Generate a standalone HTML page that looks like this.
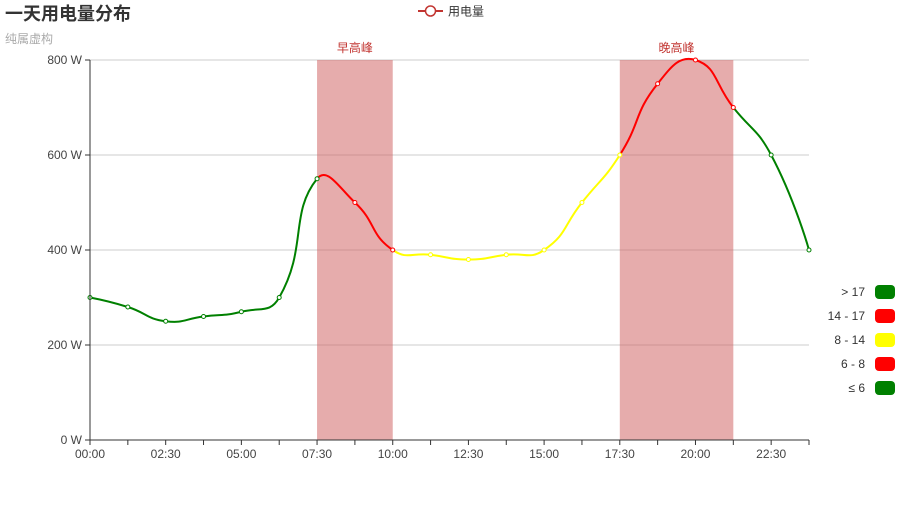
<!DOCTYPE html>
<html><head><meta charset="utf-8">
<style>
body{margin:0;background:#fff;font-family:"Liberation Sans","Noto Sans CJK SC",sans-serif;}
svg text{font-family:"Liberation Sans","Noto Sans CJK SC",sans-serif;}
</style></head>
<body>
<svg id="chart" width="900" height="500">
<text x="5" y="20" font-size="18" font-weight="bold" fill="#333">一天用电量分布</text>
<text x="5" y="43" font-size="12" fill="#aaa">纯属虚构</text>
<g>
<line x1="418" y1="11" x2="443" y2="11" stroke="#c23531" stroke-width="2"/>
<circle cx="430.5" cy="11" r="5" fill="#fff" stroke="#c23531" stroke-width="1.5"/>
<text x="448" y="15.5" font-size="12" fill="#333">用电量</text>
</g>
<g id="grid"></g>
<g id="marks"></g>
<g id="series"></g>
<g id="axes"></g>
<g id="vmap"></g>
</svg>
<script>
const categories=["00:00","01:15","02:30","03:45","05:00","06:15","07:30","08:45","10:00","11:15","12:30","13:45","15:00","16:15","17:30","18:45","20:00","21:15","22:30","23:45"];
const values=[300,280,250,260,270,300,550,500,400,390,380,390,400,500,600,750,800,700,600,400];
const yTicks=[0,200,400,600,800];
const pieceLabels=["> 17","14 - 17","8 - 14","6 - 8","≤ 6"];
const pieceColors=["green","red","yellow","red","green"];
const pieceBounds=[6,8,14,17];
const markAreas=[["早高峰","07:30","10:00"],["晚高峰","17:30","21:15"]];

const NS="http://www.w3.org/2000/svg";
const L=90,R=809,T=60,B=440,yMax=800;
const xs=i=>L+(R-L)*i/(categories.length-1);
const ys=v=>B-(B-T)*v/yMax;
function el(tag,attrs,parent,text){const e=document.createElementNS(NS,tag);for(const k in attrs)e.setAttribute(k,attrs[k]);if(text!==undefined)e.textContent=text;parent.appendChild(e);return e;}
const grid=document.getElementById('grid'),axes=document.getElementById('axes'),marks=document.getElementById('marks'),series=document.getElementById('series'),vmap=document.getElementById('vmap');
yTicks.forEach(t=>{
 const y=ys(t);
 if(t>0){const g=el('line',{x1:L,x2:R,y1:y,y2:y,stroke:'#ccc','stroke-width':1},grid);
 
 }
 el('line',{x1:L-5,x2:L,y1:y,y2:y,stroke:'#333'},axes);
 const tx=el('text',{x:L-8,y:y+4,'font-size':12,fill:'#444','text-anchor':'end'},axes,t+' W');
 
 
});
el('line',{x1:L,x2:L,y1:T,y2:B,stroke:'#333'},axes);
el('line',{x1:L,x2:R,y1:B,y2:B,stroke:'#333'},axes);
categories.forEach((c,i)=>{
 const x=xs(i);
 el('line',{x1:x,x2:x,y1:B,y2:B+5,stroke:'#333'},axes);
 if(i%2===0){const tx=el('text',{x:x,y:B+18,'font-size':12,fill:'#444','text-anchor':'middle'},axes,c);
 
 }
});
markAreas.forEach(m=>{
 const a=xs(categories.indexOf(m[1])),b=xs(categories.indexOf(m[2]));
 const r=el('rect',{x:a,y:T,width:b-a,height:B-T,fill:'rgb(205,90,90)','fill-opacity':0.5},marks);
 
 
 const t=el('text',{x:(a+b)/2,y:T-8,'font-size':12,fill:'#c23531','text-anchor':'middle'},marks,m[0]);
 
 
});
function colorOf(i){let k=0;while(k<pieceBounds.length&&i>pieceBounds[k])k++;return pieceColors[4-k];}
const P=values.map((v,i)=>[xs(i),ys(v)]);
const n=P.length,sm=0.5;
const cpIn=[],cpOut=[];
for(let i=0;i<n;i++){
 if(i===0||i===n-1){cpIn.push(P[i]);cpOut.push(P[i]);continue;}
 const pr=P[i-1],p=P[i],nx=P[i+1];
 const vx=(nx[0]-pr[0])*sm,vy=(nx[1]-pr[1])*sm;
 const lp=Math.hypot(p[0]-pr[0],p[1]-pr[1]),ln=Math.hypot(nx[0]-p[0],nx[1]-p[1]);
 const r=ln/(ln+lp);
 cpIn.push([p[0]-vx*(1-r),p[1]-vy*(1-r)]);
 cpOut.push([p[0]+vx*r,p[1]+vy*r]);
}
for(let i=0;i<n-1;i++){
 const p1=P[i],p2=P[i+1],c1=cpOut[i],c2=cpIn[i+1];
 const col=colorOf(i+0.5);
 const seg=el('path',{d:`M${p1[0]},${p1[1]}C${c1[0]},${c1[1]} ${c2[0]},${c2[1]} ${p2[0]},${p2[1]}`,fill:'none',stroke:col,'stroke-width':2},series);
 
 
}
P.forEach((p,i)=>{
 const c=el('circle',{cx:p[0],cy:p[1],r:2,fill:'#fff',stroke:colorOf(i),'stroke-width':1},series);
 
 
});
pieceLabels.forEach((lab,k)=>{
 const y=292+k*24;
 const t=el('text',{x:865,y:y+4,'font-size':12,fill:'#333','text-anchor':'end'},vmap,lab);
 
 
 const r=el('rect',{x:875,y:y-7,width:20,height:14,rx:4,fill:pieceColors[k]},vmap);
 
 
});
</script>
</body></html>
